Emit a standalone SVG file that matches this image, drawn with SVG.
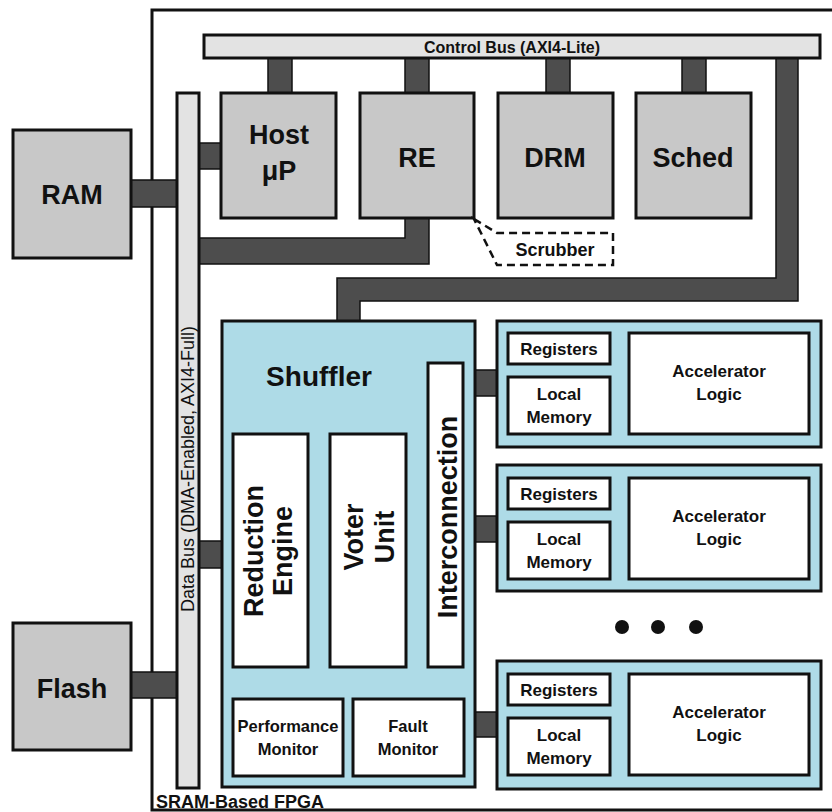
<svg xmlns="http://www.w3.org/2000/svg" width="832" height="812" viewBox="0 0 832 812">
<style>
text{font-family:"Liberation Sans",Arial,sans-serif;font-weight:bold;fill:#111;text-anchor:middle}
.gray{fill:#c8c8c8;stroke:#111;stroke-width:3}
.bus{fill:#e3e3e3;stroke:#111;stroke-width:3}
.blue{fill:#aedbe7;stroke:#111;stroke-width:3}
.white{fill:#fff;stroke:#111;stroke-width:3}
.dark{fill:#4d4d4d;stroke:#111;stroke-width:1.5}
.big{font-size:27px}
.rot{font-size:27px}
.mid{font-size:17px}
.sm{font-size:17px}
.mon{font-size:16.5px}
</style>
<rect x="0" y="0" width="832" height="812" fill="#fff"/>
<g id="fpga">
<rect x="152" y="10" width="700" height="800" fill="none" stroke="#111" stroke-width="3"/>
<text x="156" y="808" style="text-anchor:start;font-size:18px">SRAM-Based FPGA</text>
</g>
<g id="connectors">
<rect class="dark" x="131" y="180" width="46" height="27"/>
<rect class="dark" x="131" y="672" width="46" height="26"/>
<rect class="dark" x="199" y="143" width="23" height="26"/>
<rect class="dark" x="199" y="541" width="23" height="27"/>
<rect class="dark" x="268" y="57" width="24" height="37"/>
<rect class="dark" x="405" y="57" width="24" height="37"/>
<rect class="dark" x="546" y="57" width="24" height="37"/>
<rect class="dark" x="682" y="57" width="24" height="37"/>
<polygon class="dark" points="776,57 798,57 798,301 360,301 360,321 337,321 337,278 776,278"/>
<polygon class="dark" points="405,218 429,218 429,264 199,264 199,238 405,238"/>
<rect class="dark" x="474" y="370" width="24" height="26"/>
<rect class="dark" x="474" y="516" width="24" height="26"/>
<rect class="dark" x="474" y="712" width="24" height="25"/>
</g>
<g id="control-bus">
<rect class="bus" x="204" y="35" width="616" height="23"/>
<text x="512" y="53" style="font-size:16px">Control Bus (AXI4-Lite)</text>
</g>
<g id="data-bus">
<rect class="bus" x="177" y="93" width="22" height="695"/>
<text transform="translate(194,469) rotate(-90)" style="font-size:18px;font-weight:normal">Data Bus (DMA-Enabled, AXI4-Full)</text>
</g>
<g id="ram">
<rect class="gray" x="13" y="130" width="118" height="128"/>
<text class="big" x="72" y="204">RAM</text>
</g>
<g id="flash">
<rect class="gray" x="13" y="623" width="118" height="127"/>
<text class="big" x="72" y="698">Flash</text>
</g>
<g id="host">
<rect class="gray" x="221" y="93" width="115" height="125"/>
<text class="big" x="279" y="144">Host</text>
<text class="big" x="279" y="180">μP</text>
</g>
<g id="re">
<rect class="gray" x="360" y="93" width="114" height="125"/>
<text class="big" x="417" y="167">RE</text>
</g>
<g id="drm">
<rect class="gray" x="498" y="93" width="115" height="125"/>
<text class="big" x="555" y="167">DRM</text>
</g>
<g id="sched">
<rect class="gray" x="636" y="93" width="115" height="125"/>
<text class="big" x="693" y="167">Sched</text>
</g>
<g id="scrubber">
<polygon points="474,219 497,233 613,233 613,265 497,265" fill="#fff" stroke="#111" stroke-width="2.5" stroke-dasharray="8,5"/>
<text x="555" y="256" style="font-size:18px">Scrubber</text>
</g>
<g id="shuffler">
<rect class="blue" x="222" y="321" width="253" height="466"/>
<text x="319" y="386" style="font-size:28px">Shuffler</text>
</g>
<g id="interconnection">
<rect class="white" x="428" y="363" width="35" height="304"/>
<text class="rot" transform="translate(457,517) rotate(-90)">Interconnection</text>
</g>
<g id="reduction-engine">
<rect class="white" x="233" y="434" width="75" height="233"/>
<text class="rot" transform="translate(263,551) rotate(-90)">Reduction</text>
<text class="rot" transform="translate(292,551) rotate(-90)">Engine</text>
</g>
<g id="voter-unit">
<rect class="white" x="330" y="434" width="76" height="233"/>
<text class="rot" transform="translate(363,537) rotate(-90)">Voter</text>
<text class="rot" transform="translate(394,537) rotate(-90)">Unit</text>
</g>
<g id="performance-monitor">
<rect class="white" x="233" y="699" width="110" height="77"/>
<text class="mon" x="288" y="732">Performance</text>
<text class="mon" x="288" y="755">Monitor</text>
</g>
<g id="fault-monitor">
<rect class="white" x="353" y="699" width="111" height="77"/>
<text class="mon" x="408" y="732">Fault</text>
<text class="mon" x="408" y="755">Monitor</text>
</g>
<g id="accel-1">
<rect class="blue" x="497" y="321" width="324" height="126"/>
<rect class="white" x="508" y="333" width="102" height="31"/>
<text class="sm" x="559" y="355">Registers</text>
<rect class="white" x="508" y="377" width="102" height="57"/>
<text class="sm" x="559" y="400">Local</text>
<text class="sm" x="559" y="423">Memory</text>
<rect class="white" x="629" y="333" width="180" height="101"/>
<text class="mid" x="719" y="377">Accelerator</text>
<text class="mid" x="719" y="400">Logic</text>
</g>
<g id="accel-2">
<rect class="blue" x="497" y="465" width="324" height="126"/>
<rect class="white" x="508" y="478" width="102" height="31"/>
<text class="sm" x="559" y="500">Registers</text>
<rect class="white" x="508" y="522" width="102" height="57"/>
<text class="sm" x="559" y="545">Local</text>
<text class="sm" x="559" y="568">Memory</text>
<rect class="white" x="629" y="478" width="180" height="101"/>
<text class="mid" x="719" y="522">Accelerator</text>
<text class="mid" x="719" y="545">Logic</text>
</g>
<g id="ellipsis">
<circle cx="622" cy="627" r="7" fill="#111"/>
<circle cx="658" cy="627" r="7" fill="#111"/>
<circle cx="696" cy="627" r="7" fill="#111"/>
</g>
<g id="accel-3">
<rect class="blue" x="497" y="661" width="324" height="128"/>
<rect class="white" x="508" y="674" width="102" height="31"/>
<text class="sm" x="559" y="696">Registers</text>
<rect class="white" x="508" y="718" width="102" height="57"/>
<text class="sm" x="559" y="741">Local</text>
<text class="sm" x="559" y="764">Memory</text>
<rect class="white" x="629" y="674" width="180" height="101"/>
<text class="mid" x="719" y="718">Accelerator</text>
<text class="mid" x="719" y="741">Logic</text>
</g>
</svg>
